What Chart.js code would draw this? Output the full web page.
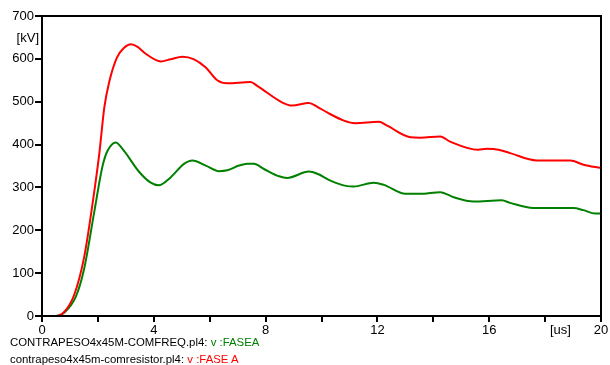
<!DOCTYPE html>
<html>
<head>
<meta charset="utf-8">
<script src="https://cdn.jsdelivr.net/npm/chart.js@4/dist/chart.umd.min.js"></script>
<style>
  body { margin: 0; background: #fff; }
  #wrap { position: relative; width: 610px; height: 365px; }
  .leg { position: absolute; left: 10px; font: 11.4px "Liberation Sans", Arial, sans-serif; color: #000; white-space: nowrap; line-height: 13px; }
</style>
</head>
<body>
<div id="wrap">
  <canvas id="chart" width="610" height="365"></canvas>
  <div class="leg" style="top:336px">CONTRAPESO4x45M-COMFREQ.pl4: <span style="color:#008000">v :FASEA</span></div>
  <div class="leg" style="top:353px">contrapeso4x45m-comresistor.pl4: <span style="color:#ff0000">v :FASE A</span></div>
</div>
<script>
// tempo em us e tensao em kV
const redTime = [0, 0.5, 0.8, 1.15, 1.51, 1.81, 2.05, 2.23, 2.4, 2.68, 2.94, 3.18, 3.42, 3.71, 4.25, 4.6, 5.02, 5.44, 5.86, 6.27, 6.63, 7.46, 7.7, 8.6, 8.95, 9.55, 9.85, 10.2, 10.8, 11.21, 12.05, 12.35, 13.18, 13.54, 14.25, 14.6, 15.6, 15.92, 16.33, 16.75, 17.7, 18.9, 19.37, 20];
const redVolts = [0, 0, 10, 49, 138, 263, 379, 487, 545, 603, 626, 634, 628, 612, 594, 599, 605, 599, 580, 550, 543, 546, 537, 498, 491, 497, 488, 475, 456, 450, 453, 444, 417, 416, 419, 407, 388, 390, 388, 380, 363, 363, 353, 345];

const greenTime = [0, 0.5, 0.8, 1.21, 1.51, 1.87, 2.17, 2.35, 2.64, 2.88, 3.48, 3.89, 4.17, 4.61, 5.08, 5.38, 5.86, 6.33, 6.63, 7.05, 7.35, 7.58, 7.94, 8.48, 8.77, 9.55, 9.85, 10.32, 10.92, 11.15, 11.87, 12.23, 13, 13.54, 14.25, 14.73, 15.44, 16.45, 16.75, 17.58, 19.01, 19.37, 19.79, 20];
const greenVolts = [0, 0, 8, 45, 111, 243, 351, 386, 405, 390, 336, 311, 305, 324, 355, 363, 351, 338, 340, 351, 355, 355, 343, 326, 322, 337, 332, 316, 303, 302, 311, 306, 285, 285, 289, 277, 267, 270, 264, 252, 252, 247, 239, 239];

const xLabels = [0, 4, 8, 12, 16, 20];

const toPoints = (t, v) => t.map((x, i) => ({ x: x, y: v[i] }));

const FONT = "'Liberation Sans', Arial, sans-serif";

// moldura e unidades dos eixos
const framePlugin = {
  id: 'frame',
  afterDraw(chart) {
    const { ctx, chartArea: a } = chart;
    ctx.save();
    ctx.strokeStyle = '#000';
    ctx.lineWidth = 2;
    ctx.strokeRect(a.left, a.top, a.right - a.left, a.bottom - a.top);
    ctx.fillStyle = '#000';
    ctx.font = '13px ' + FONT;
    ctx.textBaseline = 'middle';
    ctx.textAlign = 'right';
    ctx.fillText('[kV]', 39, 38);
    ctx.textAlign = 'center';
    ctx.fillText('[us]', chart.scales.x.getPixelForValue(18.55), 330);
    ctx.restore();
  }
};

new Chart(document.getElementById('chart'), {
  type: 'line',
  data: {
    datasets: [
      {
        label: 'v:FASEA',
        data: toPoints(greenTime, greenVolts),
        borderColor: '#008000',
        borderWidth: 2,
        pointRadius: 0,
        cubicInterpolationMode: 'monotone',
        order: 1
      },
      {
        label: 'v:FASE A',
        data: toPoints(redTime, redVolts),
        borderColor: '#ff0000',
        borderWidth: 2,
        pointRadius: 0,
        cubicInterpolationMode: 'monotone',
        order: 0
      }
    ]
  },
  options: {
    responsive: false,
    animation: false,
    layout: { padding: { top: 16, right: 9, left: 0, bottom: 0 } },
    plugins: { legend: { display: false }, tooltip: { enabled: false } },
    scales: {
      x: {
        type: 'linear',
        min: 0,
        max: 20,
        afterFit(s) { s.height = 49; },
        afterBuildTicks(s) {
          s.ticks = [];
          for (let v = 0; v <= 20; v += 2) s.ticks.push({ value: v });
        },
        border: { display: true, color: '#000', width: 2 },
        grid: { drawOnChartArea: false, drawTicks: true, tickLength: 6, color: '#000', lineWidth: 2 },
        ticks: {
          color: '#000',
          padding: 1,
          maxRotation: 0,
          autoSkip: false,
          font: { family: FONT, size: 13 },
          callback: v => xLabels.includes(v) ? String(v) : ''
        }
      },
      y: {
        min: 0,
        max: 700,
        afterFit(s) { s.width = 42; },
        border: { display: true, color: '#000', width: 2 },
        grid: { drawOnChartArea: false, drawTicks: true, tickLength: 7, color: '#000', lineWidth: 2 },
        ticks: {
          stepSize: 100,
          color: '#000',
          padding: 1,
          font: { family: FONT, size: 13 }
        }
      }
    }
  },
  plugins: [framePlugin]
});
</script>
</body>
</html>
